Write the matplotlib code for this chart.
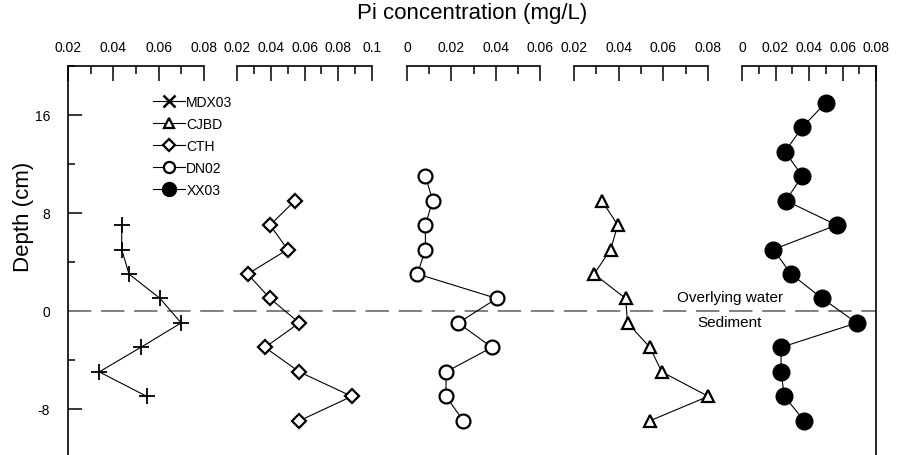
"""Pi concentration depth profiles for five sites, each in its own top x axis."""

import matplotlib
matplotlib.use("Agg")
import matplotlib.pyplot as plt
from matplotlib.lines import Line2D
from matplotlib.ticker import MultipleLocator, FuncFormatter

plt.rcParams["font.family"] = ["Liberation Sans", "DejaVu Sans"]
plt.rcParams["axes.unicode_minus"] = False

# depths (cm)
depth_mdx03 = [7, 5, 3, 1, -1, -3, -5, -7]
depth_cjbd = [9, 7, 5, 3, 1, -1, -3, -5, -7, -9]
depth_cth = [9, 7, 5, 3, 1, -1, -3, -5, -7, -9]
depth_dn02 = [11, 9, 7, 5, 3, 1, -1, -3, -5, -7, -9]
depth_xx03 = [17, 15, 13, 11, 9, 7, 5, 3, 1, -1, -3, -5, -7, -9]

# Pi concentration (mg/L)
pi_mdx03 = [0.0437, 0.0437, 0.0469, 0.0606, 0.0699, 0.0521, 0.0338, 0.0547]
pi_cth = [0.0544, 0.0396, 0.0500, 0.0263, 0.0396, 0.0569, 0.0366, 0.0569, 0.0880, 0.0569]
pi_dn02 = [0.0083, 0.0116, 0.0083, 0.0083, 0.0047, 0.0405, 0.0231, 0.0383, 0.0176, 0.0176, 0.0254]
pi_cjbd = [0.0324, 0.0396, 0.0364, 0.0290, 0.0431, 0.0440, 0.0540, 0.0593, 0.0801, 0.0540]
pi_xx03 = [0.0500, 0.0360, 0.0257, 0.0360, 0.0261, 0.0565, 0.0187, 0.0293, 0.0479,
           0.0685, 0.0233, 0.0233, 0.0253, 0.0372]

panel_limits = [(0.02, 0.08), (0.02, 0.1), (0.0, 0.06), (0.02, 0.08), (0.0, 0.08)]
depth_ticks = [-8, 0, 8, 16]


def fmt(v, _pos):
    s = f"{v:.2f}".rstrip("0").rstrip(".")
    return s if s else "0"


def main() -> None:
    W, H = 897, 456
    fig = plt.figure(figsize=(W / 100, H / 100), dpi=100)

    top, bot = 67, 458.5
    left, right = 68, 876
    ax = fig.add_axes([left / W, 1 - bot / H, (right - left) / W, (bot - top) / H])
    ax.set_ylim(-12, 20)
    ax.set_xlim(0, 1)
    ax.set_xticks([])
    ax.set_yticks(depth_ticks)
    ax.yaxis.set_minor_locator(MultipleLocator(4))
    ax.tick_params(axis="y", which="major", direction="in", length=10, width=1.1,
                   labelsize=10, pad=13)
    ax.tick_params(axis="y", which="minor", direction="in", length=5, width=1.1)
    for s in ["top", "bottom"]:
        ax.spines[s].set_visible(False)
    for s in ["left", "right"]:
        ax.spines[s].set_linewidth(1.2)
    ax.set_ylabel("Depth (cm)", fontsize=16)
    ax.yaxis.set_label_coords(-0.042, 0.617)
    ax.axhline(0, color="#808080", lw=1.4, ls=(0, (12, 5)))

    ax.text(0.819, 1.15, "Overlying water", transform=ax.get_yaxis_transform(),
            ha="center", va="center", fontsize=11)
    ax.text(0.819, -0.95, "Sediment", transform=ax.get_yaxis_transform(),
            ha="center", va="center", fontsize=11)

    panels_px = [(68, 204), (237, 372), (407, 540), (574, 708), (742, 876)]
    series = [
        (pi_mdx03, depth_mdx03, dict(marker="+", ms=11, mew=1.3, color="black")),
        (pi_cth, depth_cth, dict(marker="D", ms=7, mew=1.6, mfc="white", color="black")),
        (pi_dn02, depth_dn02, dict(marker="o", ms=10, mew=1.6, mfc="white", color="black")),
        (pi_cjbd, depth_cjbd, dict(marker="^", ms=9, mew=1.6, mfc="white", color="black")),
        (pi_xx03, depth_xx03, dict(marker="o", ms=12, color="black")),
    ]
    for (x0, x1), lim, (xs, ys, style) in zip(panels_px, panel_limits, series):
        p = fig.add_axes([x0 / W, 1 - bot / H, (x1 - x0) / W, (bot - top) / H], sharey=ax)
        p.patch.set_visible(False)
        for s in ["left", "right", "bottom"]:
            p.spines[s].set_visible(False)
        p.spines["top"].set_linewidth(1.2)
        p.set_xlim(*lim)
        p.xaxis.tick_top()
        p.xaxis.set_major_locator(MultipleLocator(0.02))
        p.xaxis.set_minor_locator(MultipleLocator(0.01))
        p.xaxis.set_major_formatter(FuncFormatter(fmt))
        p.tick_params(axis="x", which="major", direction="in", length=11, width=1.1,
                      labelsize=10, pad=9)
        p.tick_params(axis="x", which="minor", direction="in", length=6, width=1.1)
        p.tick_params(axis="y", which="both", left=False, right=False,
                      labelleft=False, labelright=False)
        p.plot(xs, ys, lw=0.8, clip_on=False, **style)

    fig.text(472 / W, 1 - 14 / H, "Pi concentration (mg/L)", ha="center", va="center",
             fontsize=16)

    handles = [
        Line2D([], [], color="black", lw=0.8, marker="x", ms=8, mew=1.8),
        Line2D([], [], color="black", lw=0.8, marker="^", ms=7, mew=1.6, mfc="white"),
        Line2D([], [], color="black", lw=0.8, marker="D", ms=6, mew=1.6, mfc="white"),
        Line2D([], [], color="black", lw=0.8, marker="o", ms=8, mew=1.6, mfc="white"),
        Line2D([], [], color="black", lw=0.8, marker="o", ms=10),
    ]
    labels = ["MDX03", "CJBD", "CTH", "DN02", "XX03"]
    fig.legend(handles, labels, loc="upper left", bbox_to_anchor=(153 / W, 1 - 96 / H),
               frameon=False, fontsize=10, handlelength=2.3, handletextpad=0.1,
               labelspacing=0.58, borderpad=0, borderaxespad=0)

    fig.savefig("out.png", dpi=100)


if __name__ == "__main__":
    main()
